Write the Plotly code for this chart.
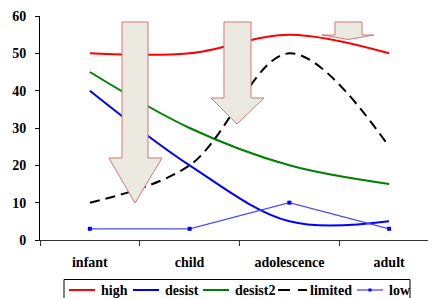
import plotly.graph_objects as go

categories = ["infant", "child", "adolescence", "adult"]
high = [50, 50, 55, 50]
desist = [40, 20, 5, 5]
desist2 = [45, 30, 20, 15]
limited = [10, 20, 50, 25]
low = [3, 3, 10, 3]
y_ticks = [0, 10, 20, 30, 40, 50, 60]

# page offset (default body margin) and plot box in page pixels
OFF = 8
PL, PT, PR, PB = 40, 16, 436, 240
W, H = 436 - OFF, 298 - OFF
L, T = PL - OFF, PT - OFF
R, B = W - (PR - OFF), H - (PB - OFF)
PW, PH = PR - PL, PB - PT

FONT = "Liberation Serif, Times New Roman, serif"
FS = 14

styles = {
    "high": dict(color="#FF0000", width=2, dash="solid"),
    "desist": dict(color="#0000FF", width=2, dash="solid"),
    "desist2": dict(color="#008000", width=2, dash="solid"),
    "limited": dict(color="#000000", width=2, dash="10px,6px"),
    "low": dict(color="#4A4AFF", width=1.3, dash="solid"),
}

fig = go.Figure()
for name, vals in [("high", high), ("desist", desist), ("desist2", desist2), ("limited", limited)]:
    fig.add_trace(go.Scatter(x=categories, y=vals, name=name, mode="lines",
                             line=dict(**styles[name], shape="spline", smoothing=1)))
fig.add_trace(go.Scatter(x=categories, y=low, name="low", mode="lines+markers",
                         line=styles["low"],
                         marker=dict(symbol="square", size=4, color="#0000FF")))


def px(x, y):
    """page pixel -> paper coords"""
    return ((x - PL) / PW, (PB - y) / PH)


def arrow(xl, xr, top, base, hl, hr, tipx, tipy):
    pts = [(xl, top), (xr, top), (xr, base), (hr, base), (tipx, tipy), (hl, base), (xl, base)]
    p = [px(a, b) for a, b in pts]
    path = "M " + " L ".join(f"{a:.4f},{b:.4f}" for a, b in p) + " Z"
    return dict(type="path", path=path, xref="paper", yref="paper", layer="above",
                fillcolor="#ECEAE0", line=dict(color="#D07878", width=1))


shapes = [
    arrow(122, 148, 22, 158, 109, 162, 135, 203),
    arrow(224, 251, 22, 98, 211, 264, 237, 124),
    arrow(335, 362, 22, 35, 322, 374, 348, 39.5),
]

# manual legend (box, samples, labels)
annotations = []
bx0, by0 = px(64, 279.5)
bx1, by1 = px(410, 305)
shapes.append(dict(type="rect", xref="paper", yref="paper", x0=bx0, y0=by0, x1=bx1, y1=by1,
                   line=dict(color="black", width=1), fillcolor="white", layer="above"))
legend_names = ["high", "desist", "desist2", "limited", "low"]
legend_line_x = [69, 133, 203, 278, 357]
legend_y = 290
for name, lx in zip(legend_names, legend_line_x):
    st = styles[name]
    dash = "12px,8px" if name == "limited" else "solid"
    x0, y0 = px(lx, legend_y)
    x1, _ = px(lx + 29 if name == "limited" else lx + 26, legend_y)
    shapes.append(dict(type="line", xref="paper", yref="paper", x0=x0, y0=y0, x1=x1, y1=y0,
                       line=dict(color=st["color"], width=st["width"], dash=dash),
                       layer="above"))
    if name == "low":
        mx0, my0 = px(lx + 11.5, legend_y - 1.5)
        mx1, my1 = px(lx + 14.5, legend_y + 1.5)
        shapes.append(dict(type="rect", xref="paper", yref="paper", x0=mx0, y0=my0, x1=mx1, y1=my1,
                           line=dict(color="#0000FF", width=0), fillcolor="#0000FF", layer="above"))
    tx, ty = px(lx + 30, legend_y)
    annotations.append(dict(text=name, x=tx, y=ty, xref="paper", yref="paper",
                            xanchor="left", yanchor="middle", showarrow=False,
                            font=dict(family=FONT, size=FS, color="black", weight="bold")))

fig.update_layout(
    width=W, height=H,
    margin=dict(l=L, r=R, t=T, b=B, pad=0, autoexpand=False),
    paper_bgcolor="white", plot_bgcolor="white",
    font=dict(family=FONT, size=FS, color="black", weight="bold"),
    shapes=shapes,
    annotations=annotations,
    showlegend=False,
    xaxis=dict(type="category", range=[-0.5, 3.47], showgrid=False, zeroline=False,
               showline=True, linecolor="#333333", linewidth=1,
               ticks="outside", ticklen=5, tickcolor="#333333", tickson="boundaries",
               ticklabelstandoff=9,
               tickfont=dict(family=FONT, size=FS, color="black", weight="bold")),
    yaxis=dict(range=[0, 60], tickvals=y_ticks, showgrid=False, zeroline=False,
               showline=True, linecolor="black", linewidth=1,
               ticks="outside", ticklen=4, tickcolor="black",
               ticklabelstandoff=6,
               tickfont=dict(family=FONT, size=FS, color="black", weight="bold")),
)

fig.write_html("out.html")
